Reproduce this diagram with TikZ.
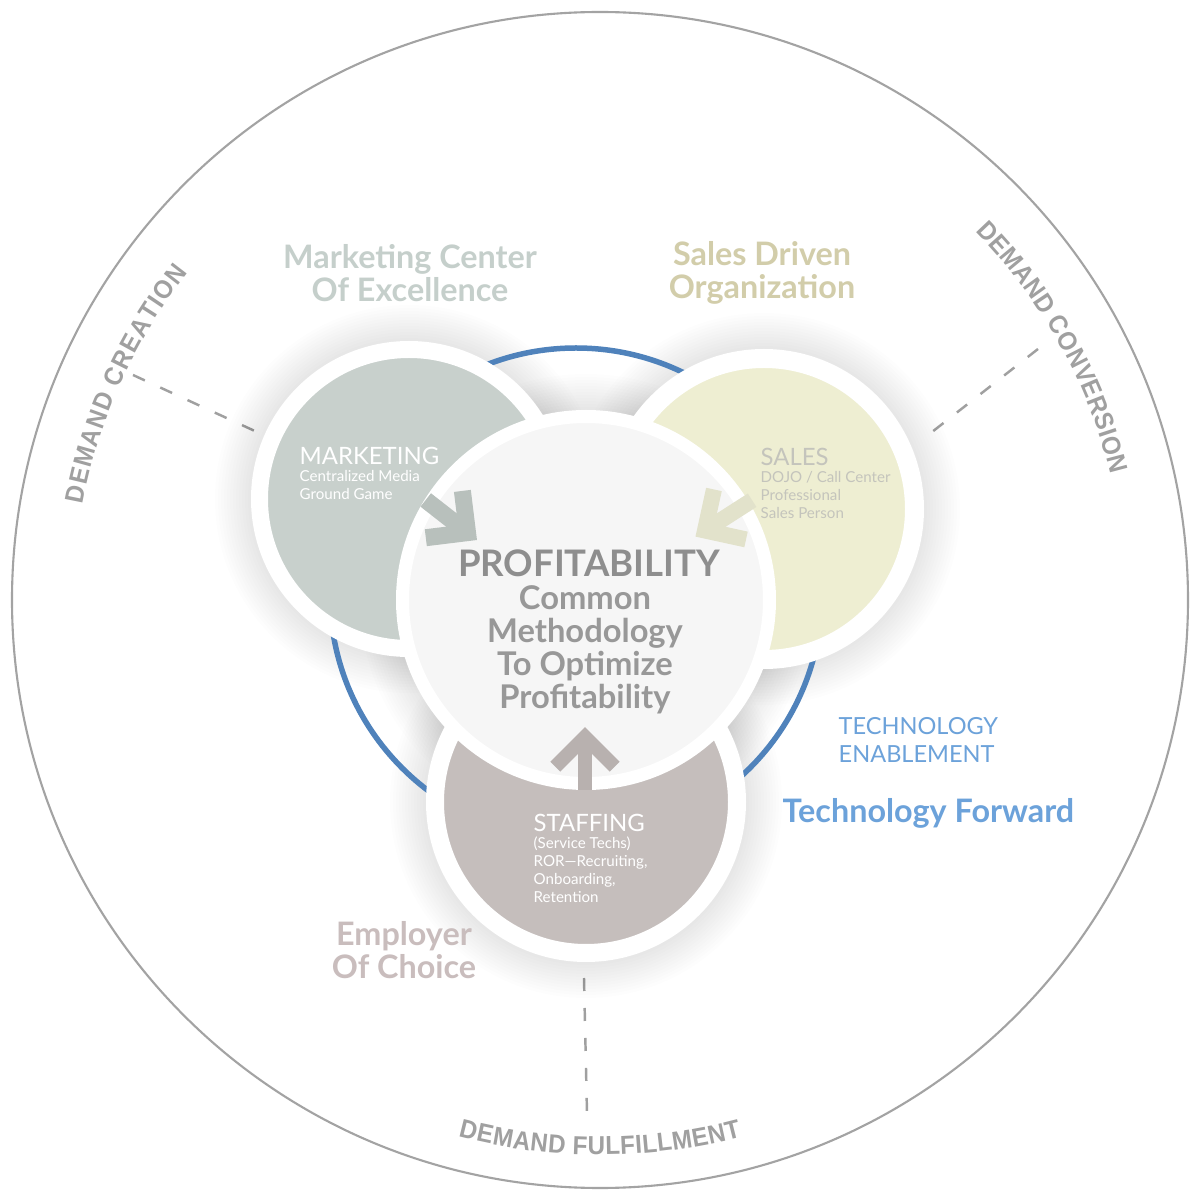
\documentclass[tikz,border=0pt]{standalone}
\usepackage{fontspec}
\setmainfont{Lato}
\newfontfamily\demandfont[FakeStretch=0.93]{Liberation Sans}
\usetikzlibrary{calc, decorations.text}

\definecolor{ringgray}{HTML}{A3A3A3}
\definecolor{demandgray}{HTML}{A0A0A0}
\definecolor{techblue}{HTML}{4F82BB}
\definecolor{labelblue}{HTML}{6CA2DA}
\definecolor{mktfill}{HTML}{C8D0CC}
\definecolor{salesfill}{HTML}{EEEED2}
\definecolor{stafffill}{HTML}{C5BEBC}
\definecolor{corefill}{HTML}{F6F6F6}
\definecolor{mktarrow}{HTML}{B8C0BC}
\definecolor{salesarrow}{HTML}{E2E2CB}
\definecolor{staffarrow}{HTML}{B8B1AF}
\definecolor{mkttitle}{HTML}{C5CFCB}
\definecolor{salestitle}{HTML}{D2CDAA}
\definecolor{stafftitle}{HTML}{C9BDBD}
\definecolor{salestext}{HTML}{C4C4BC}
\definecolor{profgray}{HTML}{8E8E8E}
\definecolor{methgray}{HTML}{989898}

\newcommand{\dmd}{\demandfont\bfseries\fontsize{7.4}{8}\selectfont}
\newcommand{\headsize}{\fontsize{6.8}{5.1}\selectfont}

\tikzstyle{disc} = [circle, inner sep=0pt, draw=white]
\tikzstyle{chevron} = [line join=miter, line cap=butt]
\tikzstyle{dashline} = [demandgray, line width=0.7pt, dash pattern=on 0.13cm off 0.17cm]
\tikzstyle{demandtext} = [decorate, decoration={text along path, text align=fit to path, text color=demandgray}]
\tikzstyle{title} = [align=center, font=\bfseries\fontsize{9.2}{9.4}\selectfont]
\tikzstyle{blocktext} = [anchor=north west, inner sep=0pt, align=left, font=\fontsize{4.3}{5.1}\selectfont]

\begin{document}
\begin{tikzpicture}
    \useasboundingbox[fill=white] (0,0) rectangle (12,12);

    % centres
    \coordinate (mid) at (6,6);
    \coordinate (ring) at (5.76,6.06);
    \coordinate (mkt) at (4.09,7.01);
    \coordinate (sales) at (7.64,6.91);
    \coordinate (staff) at (5.86,3.98);
    \coordinate (core) at (5.86,6.00);

    % outer circle and the three demand sectors
    \node (outer) [circle, draw=ringgray, line width=0.6pt, minimum size=11.76cm, inner sep=0pt] at (mid) {};

    \path[demandtext, decoration={text={|\dmd|DEMAND CREATION}}] ($(mid)+(169.5:5.26)$) arc[start angle=169.5, end angle=141.5, radius=5.26];
    \path[demandtext, decoration={text={|\dmd|DEMAND CONVERSION}}] ($(mid)+(44.5:5.26)$) arc[start angle=44.5, end angle=13.8, radius=5.26];
    \path[demandtext, decoration={text={|\dmd|DEMAND FULFILLMENT}}] ($(mid)+(255.2:5.55)$) arc[start angle=255.2, end angle=284.8, radius=5.55];

    \coordinate (creation out) at (1.33,8.25);
    \coordinate (creation in) at (2.57,7.68);
    \coordinate (conversion out) at (10.38,8.51);
    \coordinate (conversion in) at (9.32,7.68);
    \coordinate (fulfil in) at (5.84,2.22);
    \coordinate (fulfil out) at (5.87,0.87);
    \draw[dashline] (creation out) -- (creation in);
    \draw[dashline] (conversion out) -- (conversion in);
    \draw[dashline] (fulfil in) -- (fulfil out);

    % soft shadows
    \foreach \c/\r in {mkt/1.58, sales/1.60, staff/1.60, core/1.90}
        \foreach \k in {1,...,12}
            \fill[black, opacity=0.007] (\c) circle ({\r+0.03*\k});

    % technology ring
    \draw[techblue, line width=0.055cm] (ring) circle (2.46);

    % the four discs
    \node (mkt disc) [disc, fill=mktfill, line width=0.17cm, minimum size=2.99cm] at (mkt) {};
    \node (sales disc) [disc, fill=salesfill, line width=0.19cm, minimum size=3.01cm] at (sales) {};
    \node (staff disc) [disc, fill=stafffill, line width=0.18cm, minimum size=3.02cm] at (staff) {};
    \node (core disc) [disc, fill=corefill, line width=0.13cm, minimum size=3.67cm] at (core) {};

    % arrows into the core
    \coordinate (mkt tip) at (4.675,6.674);
    \coordinate (sales tip) at (7.05,6.695);
    \coordinate (staff tip) at (5.85,4.63);
    \draw[chevron, mktarrow, line width=0.17cm] (mkt tip) -- ++(142:0.53);
    \draw[chevron, mktarrow, line width=0.17cm] ($(mkt tip)+(97:0.42)$) -- (mkt tip) -- +(187:0.42);
    \draw[chevron, salesarrow, line width=0.16cm] (sales tip) -- ++(32.7:0.56);
    \draw[chevron, salesarrow, line width=0.16cm] ($(sales tip)+(77.7:0.42)$) -- (sales tip) -- +(-12.3:0.42);
    \draw[chevron, staffarrow, line width=0.14cm] (staff tip) -- ++(270:0.53);
    \draw[chevron, staffarrow, line width=0.14cm] ($(staff tip)+(225:0.42)$) -- (staff tip) -- +(315:0.42);

    % texts
    \node (mkt title) [title, text=mkttitle] at (4.10,9.27) {Marketing Center\\Of Excellence};
    \node (sales title) [title, text=salestitle] at (7.62,9.27) {Sales Driven\\Organization};
    \node (staff title) [title, text=stafftitle] at (4.04,2.50) {Employer\\Of Choice};

    \node (mkt text) [blocktext, text=white] at (2.99,7.54) {{\headsize MARKETING}\\Centralized Media\\Ground Game};
    \node (sales text) [blocktext, text=salestext] at (7.60,7.53) {{\headsize SALES}\\DOJO / Call Center\\Professional\\Sales Person};
    \node (staff text) [blocktext, text=white] at (5.33,3.87) {{\headsize STAFFING}\\(Service Techs)\\ROR---Recruiting,\\Onboarding,\\Retention};

    \node (prof) [font=\bfseries\fontsize{10.4}{12}\selectfont, text=profgray] at (5.89,6.37) {PROFITABILITY};
    \node (method) [align=center, font=\bfseries\fontsize{9.3}{9.4}\selectfont, text=methgray] at (5.85,5.50) {Common\\Methodology\\To Optimize\\Profitability};

    \node (tech enable) [anchor=west, inner sep=0pt, align=left, text=labelblue, font=\fontsize{6.7}{7.7}\selectfont] at (8.38,4.60) {TECHNOLOGY\\ENABLEMENT};
    \node (tech forward) [anchor=west, inner sep=0pt, text=labelblue, font=\bfseries\fontsize{9.2}{10}\selectfont] at (7.82,3.87) {Technology Forward};
\end{tikzpicture}
\end{document}
